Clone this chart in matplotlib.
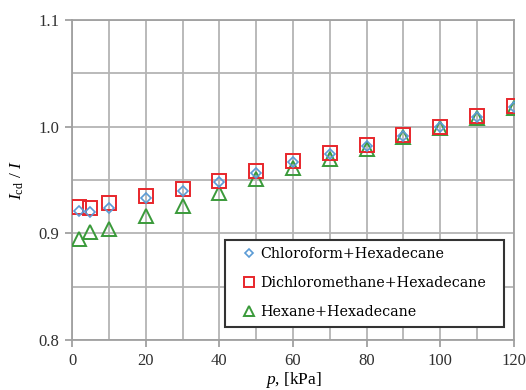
import matplotlib
matplotlib.use("Agg")
import matplotlib.pyplot as plt
from matplotlib.patches import Rectangle
from matplotlib.ticker import MultipleLocator

# pressure, kPa
pressure = [2, 5, 10, 20, 30, 40, 50, 60, 70, 80, 90, 100, 110, 120]

# normalised intensity I_cd / I
chloroform = [0.921, 0.920, 0.924, 0.933, 0.940, 0.948, 0.957, 0.967, 0.974, 0.982, 0.991, 1.000, 1.009, 1.018]
dichloromethane = [0.925, 0.924, 0.928, 0.935, 0.942, 0.949, 0.958, 0.968, 0.975, 0.983, 0.992, 1.000, 1.010, 1.019]
hexane = [0.895, 0.901, 0.904, 0.916, 0.926, 0.938, 0.951, 0.961, 0.970, 0.979, 0.990, 0.999, 1.008, 1.017]

labels = ["Chloroform+Hexadecane", "Dichloromethane+Hexadecane", "Hexane+Hexadecane"]

x_ticks = [0, 20, 40, 60, 80, 100, 120]
y_ticks = [0.8, 0.9, 1.0, 1.1]

plt.rcParams["font.family"] = ["Liberation Serif", "DejaVu Serif"]
plt.rcParams["mathtext.fontset"] = "custom"
plt.rcParams["mathtext.rm"] = "Liberation Serif"
plt.rcParams["mathtext.it"] = "Liberation Serif:italic"

fig = plt.figure(figsize=(5.26, 3.9), dpi=100)
ax = fig.add_axes([0.137, 0.128, 0.840, 0.821])

ax.plot(pressure, chloroform, linestyle="none", marker="D", markersize=5.5,
        markerfacecolor="none", markeredgecolor="#5b9bd5", markeredgewidth=1.2,
        label=labels[0], zorder=5)
ax.plot(pressure, dichloromethane, linestyle="none", marker="s", markersize=10,
        markerfacecolor="none", markeredgecolor="#e8262b", markeredgewidth=1.4,
        label=labels[1], zorder=4)
ax.plot(pressure, hexane, linestyle="none", marker="^", markersize=9.5,
        markerfacecolor="none", markeredgecolor="#3a9a3a", markeredgewidth=1.4,
        label=labels[2], zorder=3)

ax.set_xlim(0, 120)
ax.set_ylim(0.8, 1.1)
ax.set_xticks(x_ticks)
ax.set_yticks(y_ticks)
ax.set_xticklabels([str(v) for v in x_ticks])
ax.set_yticklabels([f"{v:.1f}" for v in y_ticks])
ax.xaxis.set_minor_locator(MultipleLocator(10))
ax.yaxis.set_minor_locator(MultipleLocator(0.05))

ax.grid(True, which="both", color="#b4b4b4", linewidth=1.3)
ax.set_axisbelow(True)
for s in ax.spines.values():
    s.set_color("#a0a0a0")
    s.set_linewidth(1.3)
ax.tick_params(which="major", direction="out", length=5, width=1.3, color="#a0a0a0",
               labelsize=12, labelcolor="#303030", pad=4)
ax.tick_params(which="minor", length=0)

ax.set_xlabel(r"$p$, [kPa]", fontsize=12.5, labelpad=1)
ax.set_ylabel(r"$I_{\rm cd}$ / $I$", fontsize=12.5, labelpad=9)

# legend box: wide side margins, drawn as a separate frame
box_x0, box_y0, box_w, box_h = 0.346, 0.041, 0.631, 0.272
ax.add_patch(Rectangle((box_x0, box_y0), box_w, box_h, transform=ax.transAxes,
                       facecolor="white", edgecolor="#333333", linewidth=1.5,
                       zorder=6))
leg = ax.legend(loc="center", bbox_to_anchor=(box_x0 + box_w / 2 - 0.006, box_y0 + box_h / 2),
                frameon=False, prop={"family": "DejaVu Serif", "size": 10.3},
                handlelength=1.6, handletextpad=0.0, borderpad=0.0,
                labelspacing=1.05, markerscale=0.75, borderaxespad=0)
leg.set_zorder(7)

fig.savefig("out.png", dpi=100)
